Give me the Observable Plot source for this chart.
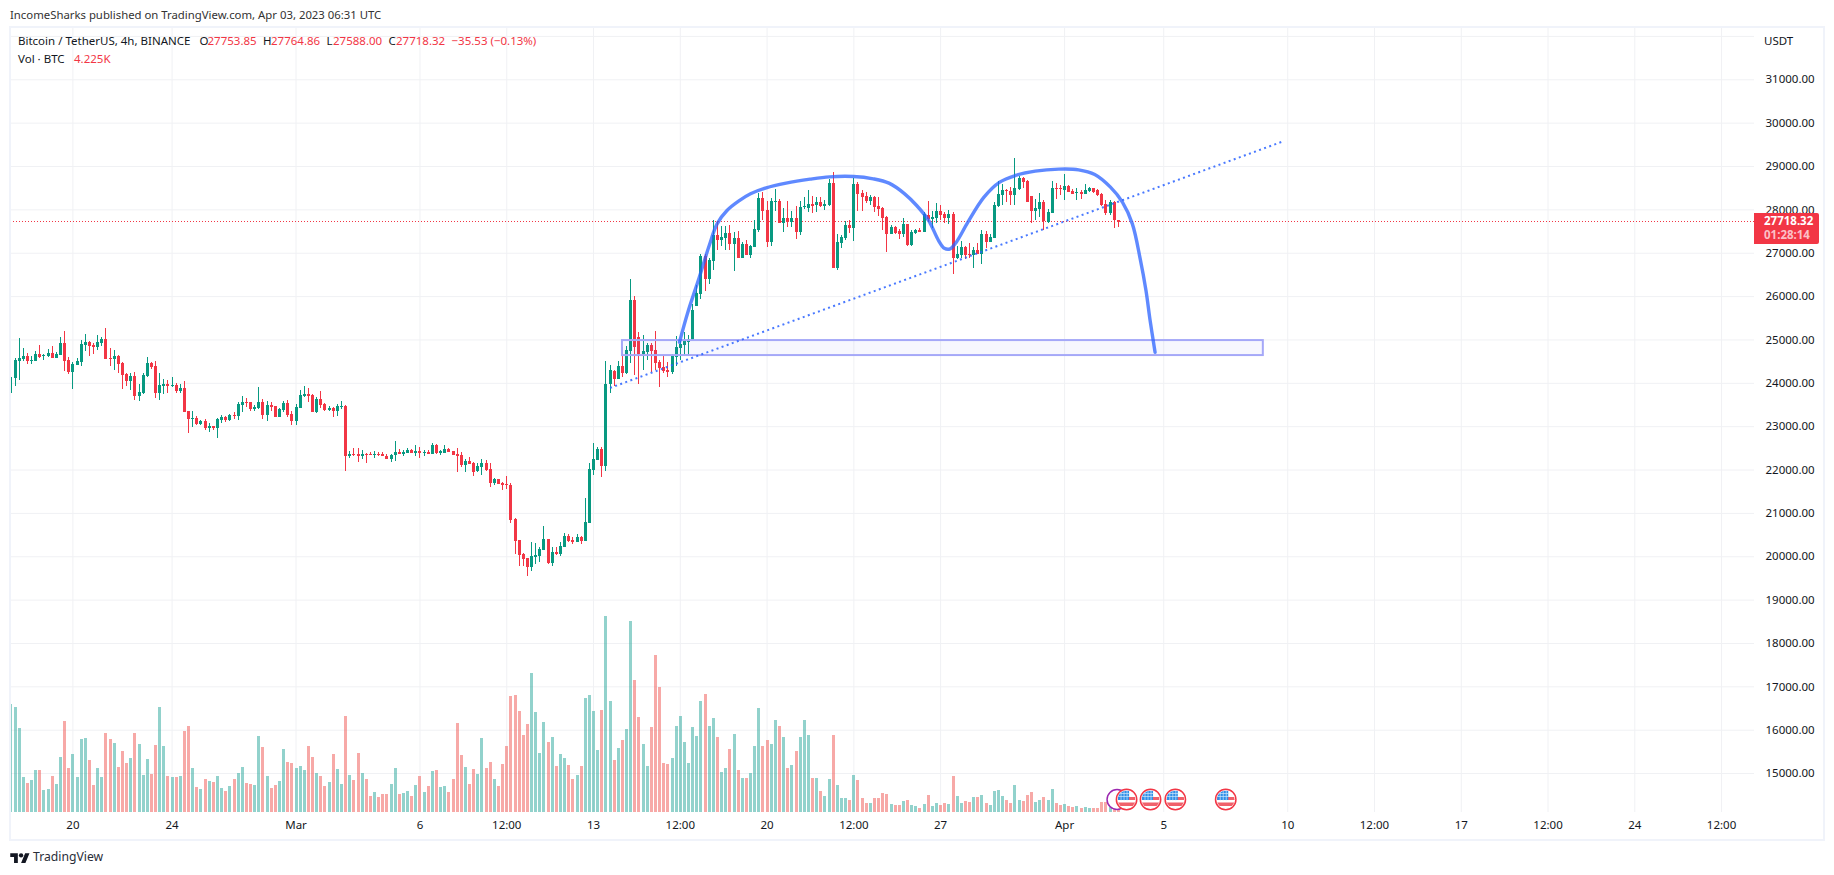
<!DOCTYPE html>
<html>
<head>
<meta charset="utf-8">
<script src="https://cdn.jsdelivr.net/npm/d3@7"></script>
<script src="https://cdn.jsdelivr.net/npm/@observablehq/plot@0.6"></script>
<style>
html,body{margin:0;padding:0;background:#fff;width:1834px;height:875px;overflow:hidden;font-family:"Noto Sans",sans-serif;color:#131722}
#page{position:relative;width:1834px;height:875px}
#chart{position:absolute;left:0;top:27px}
#chart svg{display:block}
.t{position:absolute;white-space:nowrap;font-size:11.5px;line-height:14px}
.r{color:#f23645}
#frame{position:absolute;left:8.5px;top:26px;width:1812.5px;height:811px;border:2px solid #f0f3fa;pointer-events:none}
#tag{position:absolute;left:1754px;top:213px;width:65px;height:31px;background:#f23645;border-radius:0 2px 2px 0}
#tag div{position:absolute;left:10px;font-size:11.5px;line-height:14px;white-space:nowrap}
</style>
</head>
<body>
<div id="page">
  <div id="chart"></div>
  <div id="frame"></div>
  <div class="t" style="left:10px;top:8px;color:#333;font-size:11.35px">IncomeSharks published on TradingView.com, Apr 03, 2023 06:31 UTC</div>
  <div class="t" style="left:18px;top:34px">Bitcoin / TetherUS, 4h, BINANCE</div>
  <div class="t" style="left:199.5px;top:34px">O</div><div class="t r" style="left:207.5px;top:34px">27753.85</div>
  <div class="t" style="left:263px;top:34px">H</div><div class="t r" style="left:271px;top:34px">27764.86</div>
  <div class="t" style="left:326.5px;top:34px">L</div><div class="t r" style="left:333px;top:34px">27588.00</div>
  <div class="t" style="left:388.5px;top:34px">C</div><div class="t r" style="left:396px;top:34px">27718.32</div>
  <div class="t r" style="left:451.5px;top:34px">−35.53 (−0.13%)</div>
  <div class="t" style="left:18px;top:52px">Vol · BTC</div><div class="t r" style="left:74px;top:52px">4.225K</div>
  <div class="t" style="left:1764px;top:34px">USDT</div>
  <div id="tag">
    <div style="top:1px;color:#fff;font-weight:700">27718.32</div>
    <div style="top:15px;color:#fbc1c7;font-weight:700">01:28:14</div>
  </div>
  <svg style="position:absolute;left:10px;top:851px" width="20" height="13" viewBox="0 0 36 24"><path fill="#131722" d="M14 22H7V11H0V4h14v18zM28 22h-8l7.5-18h8L28 22z"/><circle fill="#131722" cx="20" cy="8" r="4"/></svg>
  <div class="t" style="left:33px;top:849px;font-size:12.2px;line-height:16px;color:#2a2e39">TradingView</div>
</div>
<script>
// Candles, 4h bars from 17 Feb 2023 12:00 UTC: [open, high, low, close]
const ohlcFeb = [
[23770,24139,23739,24123],[24108,24569,23923,24523],[24508,25031,24062,24569],[24539,24800,24508,24615],[24615,24685,24431,24508],
[24508,24615,24431,24523],[24508,24723,24492,24662],[24662,24869,24569,24592],[24608,24669,24523,24646],[24623,24777,24592,24692],
[24685,24846,24569,24577],[24577,24708,24569,24669],[24646,25054,24631,24915],[24915,25192,24269,24500],[24523,24585,24200,24246],
[24246,24477,23854,24431],[24408,24569,24408,24500],[24477,24985,24385,24892],[24869,25123,24731,24938],[24938,24962,24615,24846],
[24877,24908,24662,24823],[24823,25100,24754,24938],[24915,25054,24846,25008],[25008,25261,24546,24546],[24569,24800,24385,24546],
[24546,24754,24292,24615],[24615,24639,24223,24431],[24454,24477,23854,24177],[24200,24223,23923,24039],[24039,24223,23831,24154],
[24154,24246,23600,23693],[23693,23970,23577,23785],[23762,24223,23739,24177],[24154,24592,24131,24454],[24454,24477,24316,24362],
[24385,24500,23647,23762],[23762,24223,23600,23946],[23923,24085,23739,23970],[23970,24062,23762,23923],[23923,24131,23900,23946],
[23946,23993,23762,23808],[23808,23970,23762,23877],[23877,24039,23323,23323],[23347,23347,22839,23162],[23162,23347,22977,23185],
[23185,23231,23023,23047],[23047,23139,23023,23116],[23116,23162,22908,22954],[22954,23070,22862,23000],[23000,23000,22908,22954],
[22954,23185,22724,23162],[23139,23254,23070,23208],[23208,23231,23093,23139],[23139,23277,23116,23254],[23254,23323,23162,23231],
[23231,23554,23139,23508],[23485,23693,23323,23554],[23554,23647,23439,23531],[23554,23554,23347,23393],[23393,23485,23347,23439],
[23416,23900,23393,23554],[23554,23623,23162,23254],[23261,23584,23123,23492],[23492,23561,23354,23446],[23469,23469,23215,23215],
[23215,23423,23215,23400],[23377,23584,23330,23538],[23538,23607,23215,23261],[23284,23354,23031,23123]
];
const ohlcMarEarly = [
[23123,23515,23031,23446],[23423,23838,23423,23723],[23700,23930,23677,23746],[23746,23876,23561,23700],[23723,23746,23330,23330],
[23330,23677,23307,23630],[23630,23815,23423,23492],[23515,23538,23354,23377],[23377,23469,23354,23423],[23423,23446,23215,23354],
[23354,23515,23238,23469],[23446,23584,23400,23469],[23469,23492,21969,22315],[22315,22431,22269,22361],[22361,22500,22315,22338],
[22361,22500,22177,22315],[22315,22454,22246,22361],[22361,22385,22154,22338],[22361,22408,22338,22338],[22338,22431,22269,22361],
[22361,22408,22315,22338],[22361,22408,22315,22315],[22315,22361,22246,22246],[22246,22361,22177,22338],[22338,22661,22200,22408],
[22408,22477,22361,22361],[22361,22454,22315,22408],[22385,22500,22385,22454],[22454,22477,22385,22385],[22385,22569,22315,22431],
[22431,22523,22269,22385],[22385,22454,22315,22408],[22408,22454,22361,22361],[22361,22615,22361,22569],[22569,22592,22361,22385],
[22385,22454,22338,22431],[22385,22569,22385,22477],[22477,22500,22408,22408],[22431,22431,22338,22338],[22361,22500,21946,22315],
[22338,22408,22062,22108],[22108,22246,21946,22200],[22200,22292,22131,22131],[22154,22177,21854,21946],[21969,22154,21946,22085],
[22062,22246,21877,22154],[22154,22223,21969,21992],[22015,22154,21600,21692],[21692,21808,21646,21785],[21785,21785,21669,21669],
[21692,21715,21531,21646],[21669,21854,21554,21646],[21646,21692,20770,20839],[20862,20885,20054,20354],[20377,20377,19778,20031],
[20054,20077,19778,19939],[19962,19962,19547,19755],[19755,20331,19662,20008],[19985,20308,19824,20031],[20008,20216,19870,20170],
[20147,20700,20147,20401],[20401,20401,19824,19847],[19847,20216,19778,20101],[20101,20216,20031,20054],[20054,20331,20008,20239],
[20216,20539,20216,20470],[20470,20516,20331,20354],[20377,20447,20285,20331],[20331,20516,20331,20447],[20447,20470,20285,20354],
[20354,21346,20354,20793],[20770,22154,20770,22015],[21992,22615,21877,22246],[22223,22523,22223,22477],[22477,22523,21831,22085]
];
const ohlcMarRally = [
[22085,24500,21969,23984],[23969,24407,23769,24292],[24269,24292,23923,24084],[24084,24500,24084,24384],[24384,24815,24138,24223],
[24223,24846,24200,24753],[24730,26391,24461,25907],[25907,25999,24177,24823],[25053,25169,23984,24661],[24661,25099,24292,24730],
[24707,24915,24523,24869],[24869,24915,24246,24730],[24753,25192,24292,24453],[24477,24523,23908,24338],[24361,24638,24223,24269],
[24292,24477,24130,24246],[24246,24661,24200,24615],[24592,25076,24384,24823],[24800,24984,24523,24892],[24869,25169,24615,24961],
[24938,25099,24615,25007],[24984,25815,24984,25676],[25768,26250,25768,26068],[26045,26968,25930,26922],[26922,26968,26115,26391],
[26391,26876,26276,26830],[26807,27753,26599,27406],[27406,27729,27060,27291],[27291,27614,27153,27360],[27337,27614,27060,27453],
[27453,27637,27060,27199],[27199,27476,26576,27337],[27337,27499,26876,26876],[26876,27245,26876,27199],[27199,27291,26945,26945],
[26945,27176,26876,27153],[27130,27753,27130,27545],[27522,28375,27476,28260],[28260,28398,27753,27960],[27983,28191,27130,27245],
[27245,28260,27153,28191],[28168,28468,27960,28191],[28191,28237,27683,27683],[27683,28029,27476,27799],[27799,28191,27591,27706],
[27706,27960,27591,27799],[27799,28075,27314,27476],[27476,28191,27406,28052],[28052,28283,28006,28075],[28029,28445,27937,28122],
[28122,28306,27914,28075],[28099,28283,27937,28168],[28168,28283,28052,28075],[28075,28214,27983,28122],[28099,28698,28075,28606],
[28606,28860,26645,26645],[26645,27430,26599,27245],[27222,27406,27107,27360],[27337,27729,27291,27637],[27637,27753,27453,27568],
[27568,28721,27268,28583]
];
const ohlcMarApr = [
[28585,28631,27962,28354],[28377,28446,27962,28285],[28308,28400,28146,28192],[28192,28331,28100,28285],[28285,28308,27939,28054],
[28077,28285,27846,28008],[28031,28054,27523,27800],[27823,27846,27016,27431],[27431,27639,27431,27593],[27593,27616,27431,27454],
[27500,27546,27316,27431],[27431,27800,27362,27662],[27662,27662,27154,27177],[27177,27523,27154,27477],[27454,27546,27431,27523],
[27523,27570,27477,27477],[27477,27939,27477,27892],[27869,28192,27708,27777],[27777,27962,27570,27823],[27800,28146,27685,27962],
[27962,28100,27754,27869],[27892,27939,27685,27800],[27800,27985,27662,27892],[27892,27939,26508,26877],[26877,27154,26854,26970],
[26947,27270,26877,27131],[27131,27154,26854,26947],[26970,27223,26877,26947],[26947,27131,26647,27061],[27061,27223,26970,26970],
[26970,27523,26739,27431],[27431,27500,27108,27247],[27247,27431,27247,27362],[27339,28169,27339,28100],[28077,28654,28054,28354],
[28331,28585,28100,28446],[28446,28469,28169,28423],[28423,28515,28100,28331],[28331,29184,28100,28492],[28469,28769,28446,28723],
[28723,28746,28492,28631],[28654,28677,28169,28169],[28308,28308,27685,27962],[27962,28239,27754,28031],[28008,28377,27823,28169],
[28169,28215,27523,27731],[27708,28008,27685,27939],[27916,28654,27916,28492],[28492,28608,28239,28469],[28492,28562,28331,28469],
[28446,28815,28215,28538],[28538,28562,28400,28400],[28423,28469,28354,28354],[28377,28492,28215,28400],[28400,28446,28239,28354],
[28354,28585,28354,28446],[28423,28515,28400,28492],[28492,28492,28377,28400],[28446,28469,28308,28331],[28354,28377,28077,28100],
[28123,28215,27869,27916],[27916,28215,27869,28169],[28169,28192,27570,27754],[27753.85,27764.86,27588,27718.32]
];
// Volume in thousand BTC, one per bar
const volumes = [
108,105,84,35,29,32,42,42,22,23,36,28,55,91,44,58,35,73,74,52,
27,44,35,79,73,69,45,61,49,54,79,68,37,53,38,67,105,66,36,35,
35,36,81,86,44,25,23,33,31,30,36,24,21,26,33,39,45,29,28,27,
76,65,36,24,27,31,63,50,49,44,46,42,66,55,39,36,26,30,58,43,
28,96,37,32,59,39,33,16,20,15,18,18,28,44,18,19,21,16,27,36,
20,26,41,42,25,26,20,33,89,57,45,28,43,38,74,44,50,33,26,48,
66,116,117,101,77,
88,139,100,59,90,70,75,46,58,54,47,33,37,46,114,117,101,62,102,196,
111,52,64,72,83,191,132,95,68,46,85,157,125,49,48,54,86,96,70,49,
85,76,111,118,86,94,75,40,44,63,78,42,34,34,39,66,104,66,72,68,
92,86,75,44,47,61,75,92,77,34,34,21,16,33,77,27,14,14,12,37,
32,14,9,9,14,14,19,18,8,7,7,11,12,7,6,4,8,17,6,9,
7,9,8,36,16,9,11,10,15,15,17,9,7,21,22,16,12,9,27,12,
11,17,20,10,12,
15,12,23,9,7,8,6,5,6,4,5,4,4,4,10,10,14,8,4.225
];
// Axes
const priceTicks = [15000,16000,17000,18000,19000,20000,21000,22000,23000,24000,25000,26000,27000,28000,29000,30000,31000];
const priceGrid = [...priceTicks, 32000];
const timeTickDays = ["2023-02-20T00:00Z","2023-02-24T00:00Z","2023-03-01T00:00Z","2023-03-06T00:00Z","2023-03-09T12:00Z","2023-03-13T00:00Z","2023-03-16T12:00Z","2023-03-20T00:00Z","2023-03-23T12:00Z","2023-03-27T00:00Z","2023-04-01T00:00Z","2023-04-05T00:00Z","2023-04-10T00:00Z","2023-04-13T12:00Z","2023-04-17T00:00Z","2023-04-20T12:00Z","2023-04-24T00:00Z","2023-04-27T12:00Z"];
const timeTickLabels = ["20","24","Mar","6","12:00","13","12:00","20","12:00","27","Apr","5","10","12:00","17","12:00","24","12:00"];
const lastPrice = [27718.32];
// Hand drawings on the chart, located by bar number and price
const brushBars = [161.8,163.7,166.6,169,170.9,173.3,176.1,179,182.8,187.6,193.4,198.1,203.9,208.7,212.5,216.3,219.2,222.1,224.5,225.9,227.3,228.8,231.6,235.5,239.3,243.1,247.9,253.6,258.4,262.3,266.1,269,271.4,273.3,274.7,275.7,276.9];
const brushPrices = [24948,25601,26447,27178,27678,27985,28201,28370,28508,28616,28708,28762,28770,28716,28616,28370,28101,27755,27293,27116,27101,27255,27716,28293,28639,28793,28893,28939,28924,28816,28524,28178,27678,26870,26140,25448,24717];
const trendBars = [145,308.2];
const trendPrices = [23894,29591];
const zoneBars = [148,303.1];
const zonePrices = [24640,24986];
const eventBars = [270,275.8,281.8,294];
const ringBars = [267.7];
const eventPrice = 14402;

const BAR_MS = 4*3600*1000, T0 = Date.UTC(2023,1,17,12);
const barTime = i => new Date(T0 + i*BAR_MS);
const ohlc = [...ohlcFeb,...ohlcMarEarly,...ohlcMarRally,...ohlcMarApr];
const bars = ohlc.map(([o,h,l,c],i)=>({t:barTime(i),o,h,l,c,v:volumes[i],up:c>=o}));
const GREEN="#089981", RED="#f23645";
const tickDates = timeTickDays.map(s=>new Date(s));
const tickLabel = new Map(tickDates.map((d,i)=>[+d,timeTickLabels[i]]));
const volBase = 14102;
const volToPrice = d3.scaleLinear([0,1000],[volBase,volBase+23062]);
const brush = brushBars.map((b,i)=>({t:barTime(b),p:brushPrices[i]}));
const trend = trendBars.map((b,i)=>({t:barTime(b),p:trendPrices[i]}));
const flagSvg = `<svg xmlns="http://www.w3.org/2000/svg" width="24" height="24" viewBox="0 0 24 24"><defs><clipPath id="c"><circle cx="12" cy="12" r="9"/></clipPath></defs><circle cx="12" cy="12" r="10.2" fill="#fff" stroke="#f23645" stroke-width="1.5"/><g clip-path="url(#c)"><rect x="3" y="9.5" width="18" height="3" fill="#f0616b"/><rect x="3" y="15" width="18" height="3.5" fill="#f0616b"/><rect x="3.5" y="3" width="11" height="9.5" fill="#2f8fe8"/><path d="M6.5 3v10M9.5 3v10M12.5 3v10M3 6h12M3 9h12" stroke="#cfe6fb" stroke-width=".7"/></g></svg>`;
const flagUri = "data:image/svg+xml," + encodeURIComponent(flagSvg);

const plot = Plot.plot({
  width:1834, height:812,
  marginTop:0, marginBottom:27, marginLeft:9.5, marginRight:80,
  style:{fontFamily:'"Noto Sans",sans-serif',fontSize:"11.5px",color:"#131722",background:"transparent"},
  x:{type:"utc",domain:[barTime(-0.2227),barTime(421.97)],label:null},
  y:{domain:[volBase,32206],label:null},
  marks:[
    Plot.gridX(tickDates,{x:d=>d,stroke:"#f0f1f4",strokeOpacity:1,strokeWidth:1}),
    Plot.ruleY(priceGrid,{stroke:"#f0f1f4",strokeWidth:1}),
    Plot.axisY({anchor:"right",ticks:priceTicks,tickFormat:d3.format(".2f"),tickSize:0,tickPadding:11,label:null}),
    Plot.axisX({ticks:tickDates,tickFormat:d=>tickLabel.get(+d),tickSize:0,tickPadding:8,label:null}),
    Plot.ruleX(bars,{x:"t",y1:volBase,y2:d=>volToPrice(d.v),stroke:d=>d.up?"#26a69a":"#ef5350",strokeOpacity:.5,strokeWidth:3,shapeRendering:"crispEdges"}),
    Plot.ruleY(lastPrice,{stroke:RED,strokeDasharray:"1 2",strokeWidth:1,shapeRendering:"crispEdges",dy:-0.6}),
    Plot.ruleX(bars,{x:"t",y1:"l",y2:"h",stroke:d=>d.up?GREEN:RED,strokeWidth:1,shapeRendering:"crispEdges"}),
    Plot.ruleX(bars,{x:"t",y1:"o",y2:"c",stroke:d=>d.up?GREEN:RED,strokeWidth:3,shapeRendering:"crispEdges"}),
    Plot.rect([{}],{x1:()=>barTime(zoneBars[0]),x2:()=>barTime(zoneBars[1]),y1:()=>zonePrices[0],y2:()=>zonePrices[1],fill:"#5b5ff0",fillOpacity:.05,stroke:"#a5a8f8",strokeWidth:2}),
    Plot.line(trend,{x:"t",y:"p",stroke:"#2962ff",strokeWidth:2,strokeDasharray:"2 3.4",strokeLinecap:"butt",strokeOpacity:.85}),
    Plot.line(brush,{x:"t",y:"p",curve:"catmull-rom",stroke:"#2962ff",strokeWidth:3.4,strokeOpacity:.75,strokeLinecap:"round",strokeLinejoin:"round"}),
    Plot.dot(ringBars,{x:barTime,y:()=>eventPrice,r:10,stroke:"#9c27b0",strokeWidth:1.5,fill:"#fff"}),
    Plot.image(eventBars,{x:barTime,y:()=>eventPrice,src:()=>flagUri,width:24,height:24})
  ]
});
document.getElementById("chart").append(plot);
</script>
</body>
</html>
